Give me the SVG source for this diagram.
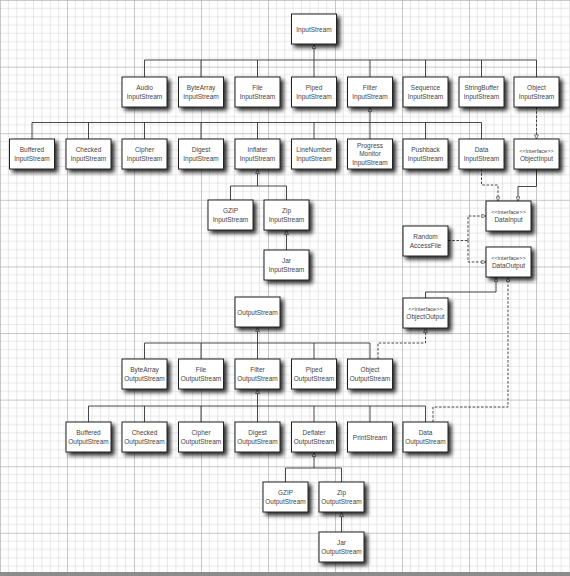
<svg xmlns="http://www.w3.org/2000/svg" width="570" height="576" viewBox="0 0 570 576">
<defs>
<pattern id="grid" patternUnits="userSpaceOnUse" x="0" y="0" width="67" height="66.6">
<path d="M8.4,0V66.6M16.75,0V66.6M25.1,0V66.6M33.5,0V66.6M41.9,0V66.6M50.25,0V66.6M58.6,0V66.6M0,8.3H67M0,16.65H67M0,25H67M0,33.3H67M0,41.6H67M0,49.95H67M0,58.3H67" stroke="#d8d8d8" stroke-width="0.6" fill="none"/>
<path d="M0.4,0V66.6M0,0.4H67" stroke="#b0b0b0" stroke-width="0.8" fill="none"/>
</pattern>
<filter id="sh" x="-20%" y="-20%" width="160%" height="170%">
<feGaussianBlur in="SourceAlpha" stdDeviation="2"/>
<feOffset dx="3" dy="3" result="b"/>
<feComponentTransfer><feFuncA type="linear" slope="0.85"/></feComponentTransfer>
<feMerge><feMergeNode/><feMergeNode in="SourceGraphic"/></feMerge>
</filter>
<marker id="tri" viewBox="0 0 10 10" refX="9.5" refY="5" markerUnits="userSpaceOnUse" markerWidth="5" markerHeight="4.6" orient="auto">
<path d="M0.5,0.8 L9.5,5 L0.5,9.2 Z" fill="#fff" stroke="#333" stroke-width="1.4"/>
</marker>
</defs>
<style>
.b{fill:#fff;stroke:#222;stroke-width:1;filter:url(#sh)}
.t{font-family:"Liberation Sans",Arial,sans-serif;font-size:6.5px;fill:#444;text-anchor:middle}
.s{font-size:5.6px}
.c{fill:none;stroke:#333;stroke-width:0.9}
.d{stroke-dasharray:2.6,1.6}
.a{marker-end:url(#tri)}
</style>
<rect x="0" y="0" width="570" height="576" fill="#fff"/>
<rect x="0" y="0" width="570" height="576" fill="url(#grid)"/>
<rect x="0" y="572" width="570" height="4" fill="#8c8c8c"/>

<g id="connectors">
<path class="c a" d="M314,60V44.5"/>
<path class="c" d="M144.5,60H536.5M144.5,60V77M201,60V77M257.5,60V77M314,60V77M370,60V77M425.5,60V77M481.5,60V77M536.5,60V77"/>
<path class="c a" d="M370,122.5V107.5"/>
<path class="c" d="M32,122.5H481.5M32,122.5V139M88.5,122.5V139M144.5,122.5V139M201,122.5V139M257.5,122.5V139M314,122.5V139M370,122.5V139M425.5,122.5V139M481.5,122.5V139"/>
<path class="c d a" d="M536.5,107V139"/>
<path class="c a" d="M257.5,186V169.5"/>
<path class="c" d="M230.5,186H286.5M230.5,186V200M286.5,186V200"/>
<path class="c a" d="M286.5,250V230.5"/>
<path class="c d a" d="M481.5,169V185H498V201"/>
<path class="c a" d="M536.5,169V186.5H518V201"/>
<path class="c d" d="M448,240.5H468"/>
<path class="c d a" d="M468,240.5V216H486"/>
<path class="c d a" d="M468,240.5V262H486"/>
<path class="c a" d="M425.5,298V292H496V277.5"/>
<path class="c d a" d="M433,422V407H508V277.5"/>
<path class="c d a" d="M378,359V343H425.5V328.5"/>
<path class="c a" d="M257.5,343V327.5"/>
<path class="c" d="M144.5,343H370M144.5,343V359M201,343V359M257.5,343V359M314,343V359M370,343V359"/>
<path class="c a" d="M257.5,406V389.5"/>
<path class="c" d="M88.5,406H425.5M88.5,406V422M144.5,406V422M201,406V422M257.5,406V422M314,406V422M370,406V422M425.5,406V422"/>
<path class="c a" d="M314,468V452.5"/>
<path class="c" d="M285.5,468H341.5M285.5,468V482M341.5,468V482"/>
<path class="c a" d="M341.5,532V512.5"/>
</g>

<g id="InputStream"><rect class="b" x="291.5" y="14" width="45" height="30"/><text class="t" x="314" y="31.5">InputStream</text></g>

<g id="AudioInputStream"><rect class="b" x="122" y="77" width="45" height="30"/><text class="t" x="144.5" y="90">Audio</text><text class="t" x="144.5" y="98.5">InputStream</text></g>
<g id="ByteArrayInputStream"><rect class="b" x="178.5" y="77" width="45" height="30"/><text class="t" x="201" y="90">ByteArray</text><text class="t" x="201" y="98.5">InputStream</text></g>
<g id="FileInputStream"><rect class="b" x="235" y="77" width="45" height="30"/><text class="t" x="257.5" y="90">File</text><text class="t" x="257.5" y="98.5">InputStream</text></g>
<g id="PipedInputStream"><rect class="b" x="291.5" y="77" width="45" height="30"/><text class="t" x="314" y="90">Piped</text><text class="t" x="314" y="98.5">InputStream</text></g>
<g id="FilterInputStream"><rect class="b" x="347.5" y="77" width="45" height="30"/><text class="t" x="370" y="90">Filter</text><text class="t" x="370" y="98.5">InputStream</text></g>
<g id="SequenceInputStream"><rect class="b" x="403" y="77" width="45" height="30"/><text class="t" x="425.5" y="90">Sequence</text><text class="t" x="425.5" y="98.5">InputStream</text></g>
<g id="StringBufferInputStream"><rect class="b" x="459" y="77" width="45" height="30"/><text class="t" x="481.5" y="90">StringBuffer</text><text class="t" x="481.5" y="98.5">InputStream</text></g>
<g id="ObjectInputStream"><rect class="b" x="514" y="77" width="45" height="30"/><text class="t" x="536.5" y="90">Object</text><text class="t" x="536.5" y="98.5">InputStream</text></g>

<g id="BufferedInputStream"><rect class="b" x="9.5" y="139" width="45" height="30"/><text class="t" x="32" y="152">Buffered</text><text class="t" x="32" y="160.5">InputStream</text></g>
<g id="CheckedInputStream"><rect class="b" x="66" y="139" width="45" height="30"/><text class="t" x="88.5" y="152">Checked</text><text class="t" x="88.5" y="160.5">InputStream</text></g>
<g id="CipherInputStream"><rect class="b" x="122" y="139" width="45" height="30"/><text class="t" x="144.5" y="152">Cipher</text><text class="t" x="144.5" y="160.5">InputStream</text></g>
<g id="DigestInputStream"><rect class="b" x="178.5" y="139" width="45" height="30"/><text class="t" x="201" y="152">Digest</text><text class="t" x="201" y="160.5">InputStream</text></g>
<g id="InflaterInputStream"><rect class="b" x="235" y="139" width="45" height="30"/><text class="t" x="257.5" y="152">Inflater</text><text class="t" x="257.5" y="160.5">InputStream</text></g>
<g id="LineNumberInputStream"><rect class="b" x="291.5" y="139" width="45" height="30"/><text class="t" x="314" y="152">LineNumber</text><text class="t" x="314" y="160.5">InputStream</text></g>
<g id="ProgressMonitorInputStream"><rect class="b" x="347.5" y="139" width="45" height="30"/><text class="t" x="370" y="147.5">Progress</text><text class="t" x="370" y="156.3">Monitor</text><text class="t" x="370" y="165">InputStream</text></g>
<g id="PushbackInputStream"><rect class="b" x="403" y="139" width="45" height="30"/><text class="t" x="425.5" y="152">Pushback</text><text class="t" x="425.5" y="160.5">InputStream</text></g>
<g id="DataInputStream"><rect class="b" x="459" y="139" width="45" height="30"/><text class="t" x="481.5" y="152">Data</text><text class="t" x="481.5" y="160.5">InputStream</text></g>
<g id="ObjectInput"><rect class="b" x="514" y="139" width="45" height="30"/><text class="t s" x="536.5" y="152.5">&lt;&lt;interface&gt;&gt;</text><text class="t" x="536.5" y="161">ObjectInput</text></g>

<g id="GZIPInputStream"><rect class="b" x="208" y="200" width="45" height="30"/><text class="t" x="230.5" y="213">GZIP</text><text class="t" x="230.5" y="221.5">InputStream</text></g>
<g id="ZipInputStream"><rect class="b" x="264" y="200" width="45" height="30"/><text class="t" x="286.5" y="213">Zip</text><text class="t" x="286.5" y="221.5">InputStream</text></g>
<g id="JarInputStream"><rect class="b" x="264" y="250" width="45" height="30"/><text class="t" x="286.5" y="263">Jar</text><text class="t" x="286.5" y="271.5">InputStream</text></g>

<g id="DataInput"><rect class="b" x="486" y="201" width="45" height="30"/><text class="t s" x="508.5" y="213.5">&lt;&lt;interface&gt;&gt;</text><text class="t" x="508.5" y="222">DataInput</text></g>
<g id="RandomAccessFile"><rect class="b" x="403" y="226" width="45" height="30"/><text class="t" x="425.5" y="239">Random</text><text class="t" x="425.5" y="247.5">AccessFile</text></g>
<g id="DataOutput"><rect class="b" x="486" y="247" width="45" height="30"/><text class="t s" x="508.5" y="259.5">&lt;&lt;interface&gt;&gt;</text><text class="t" x="508.5" y="268">DataOutput</text></g>
<g id="ObjectOutput"><rect class="b" x="403" y="298" width="45" height="30"/><text class="t s" x="425.5" y="310.5">&lt;&lt;interface&gt;&gt;</text><text class="t" x="425.5" y="319">ObjectOutput</text></g>

<g id="OutputStream"><rect class="b" x="235" y="297" width="45" height="30"/><text class="t" x="257.5" y="314.5">OutputStream</text></g>

<g id="ByteArrayOutputStream"><rect class="b" x="122" y="359" width="45" height="30"/><text class="t" x="144.5" y="372">ByteArray</text><text class="t" x="144.5" y="380.5">OutputStream</text></g>
<g id="FileOutputStream"><rect class="b" x="178.5" y="359" width="45" height="30"/><text class="t" x="201" y="372">File</text><text class="t" x="201" y="380.5">OutputStream</text></g>
<g id="FilterOutputStream"><rect class="b" x="235" y="359" width="45" height="30"/><text class="t" x="257.5" y="372">Filter</text><text class="t" x="257.5" y="380.5">OutputStream</text></g>
<g id="PipedOutputStream"><rect class="b" x="291.5" y="359" width="45" height="30"/><text class="t" x="314" y="372">Piped</text><text class="t" x="314" y="380.5">OutputStream</text></g>
<g id="ObjectOutputStream"><rect class="b" x="347.5" y="359" width="45" height="30"/><text class="t" x="370" y="372">Object</text><text class="t" x="370" y="380.5">OutputStream</text></g>

<g id="BufferedOutputStream"><rect class="b" x="66" y="422" width="45" height="30"/><text class="t" x="88.5" y="435">Buffered</text><text class="t" x="88.5" y="443.5">OutputStream</text></g>
<g id="CheckedOutputStream"><rect class="b" x="122" y="422" width="45" height="30"/><text class="t" x="144.5" y="435">Checked</text><text class="t" x="144.5" y="443.5">OutputStream</text></g>
<g id="CipherOutputStream"><rect class="b" x="178.5" y="422" width="45" height="30"/><text class="t" x="201" y="435">Cipher</text><text class="t" x="201" y="443.5">OutputStream</text></g>
<g id="DigestOutputStream"><rect class="b" x="235" y="422" width="45" height="30"/><text class="t" x="257.5" y="435">Digest</text><text class="t" x="257.5" y="443.5">OutputStream</text></g>
<g id="DeflaterOutputStream"><rect class="b" x="291.5" y="422" width="45" height="30"/><text class="t" x="314" y="435">Deflater</text><text class="t" x="314" y="443.5">OutputStream</text></g>
<g id="PrintStream"><rect class="b" x="347.5" y="422" width="45" height="30"/><text class="t" x="370" y="439.5">PrintStream</text></g>
<g id="DataOutputStream"><rect class="b" x="403" y="422" width="45" height="30"/><text class="t" x="425.5" y="435">Data</text><text class="t" x="425.5" y="443.5">OutputStream</text></g>

<g id="GZIPOutputStream"><rect class="b" x="263" y="482" width="45" height="30"/><text class="t" x="285.5" y="495">GZIP</text><text class="t" x="285.5" y="503.5">OutputStream</text></g>
<g id="ZipOutputStream"><rect class="b" x="319" y="482" width="45" height="30"/><text class="t" x="341.5" y="495">Zip</text><text class="t" x="341.5" y="503.5">OutputStream</text></g>
<g id="JarOutputStream"><rect class="b" x="319" y="532" width="45" height="30"/><text class="t" x="341.5" y="545">Jar</text><text class="t" x="341.5" y="553.5">OutputStream</text></g>
</svg>
